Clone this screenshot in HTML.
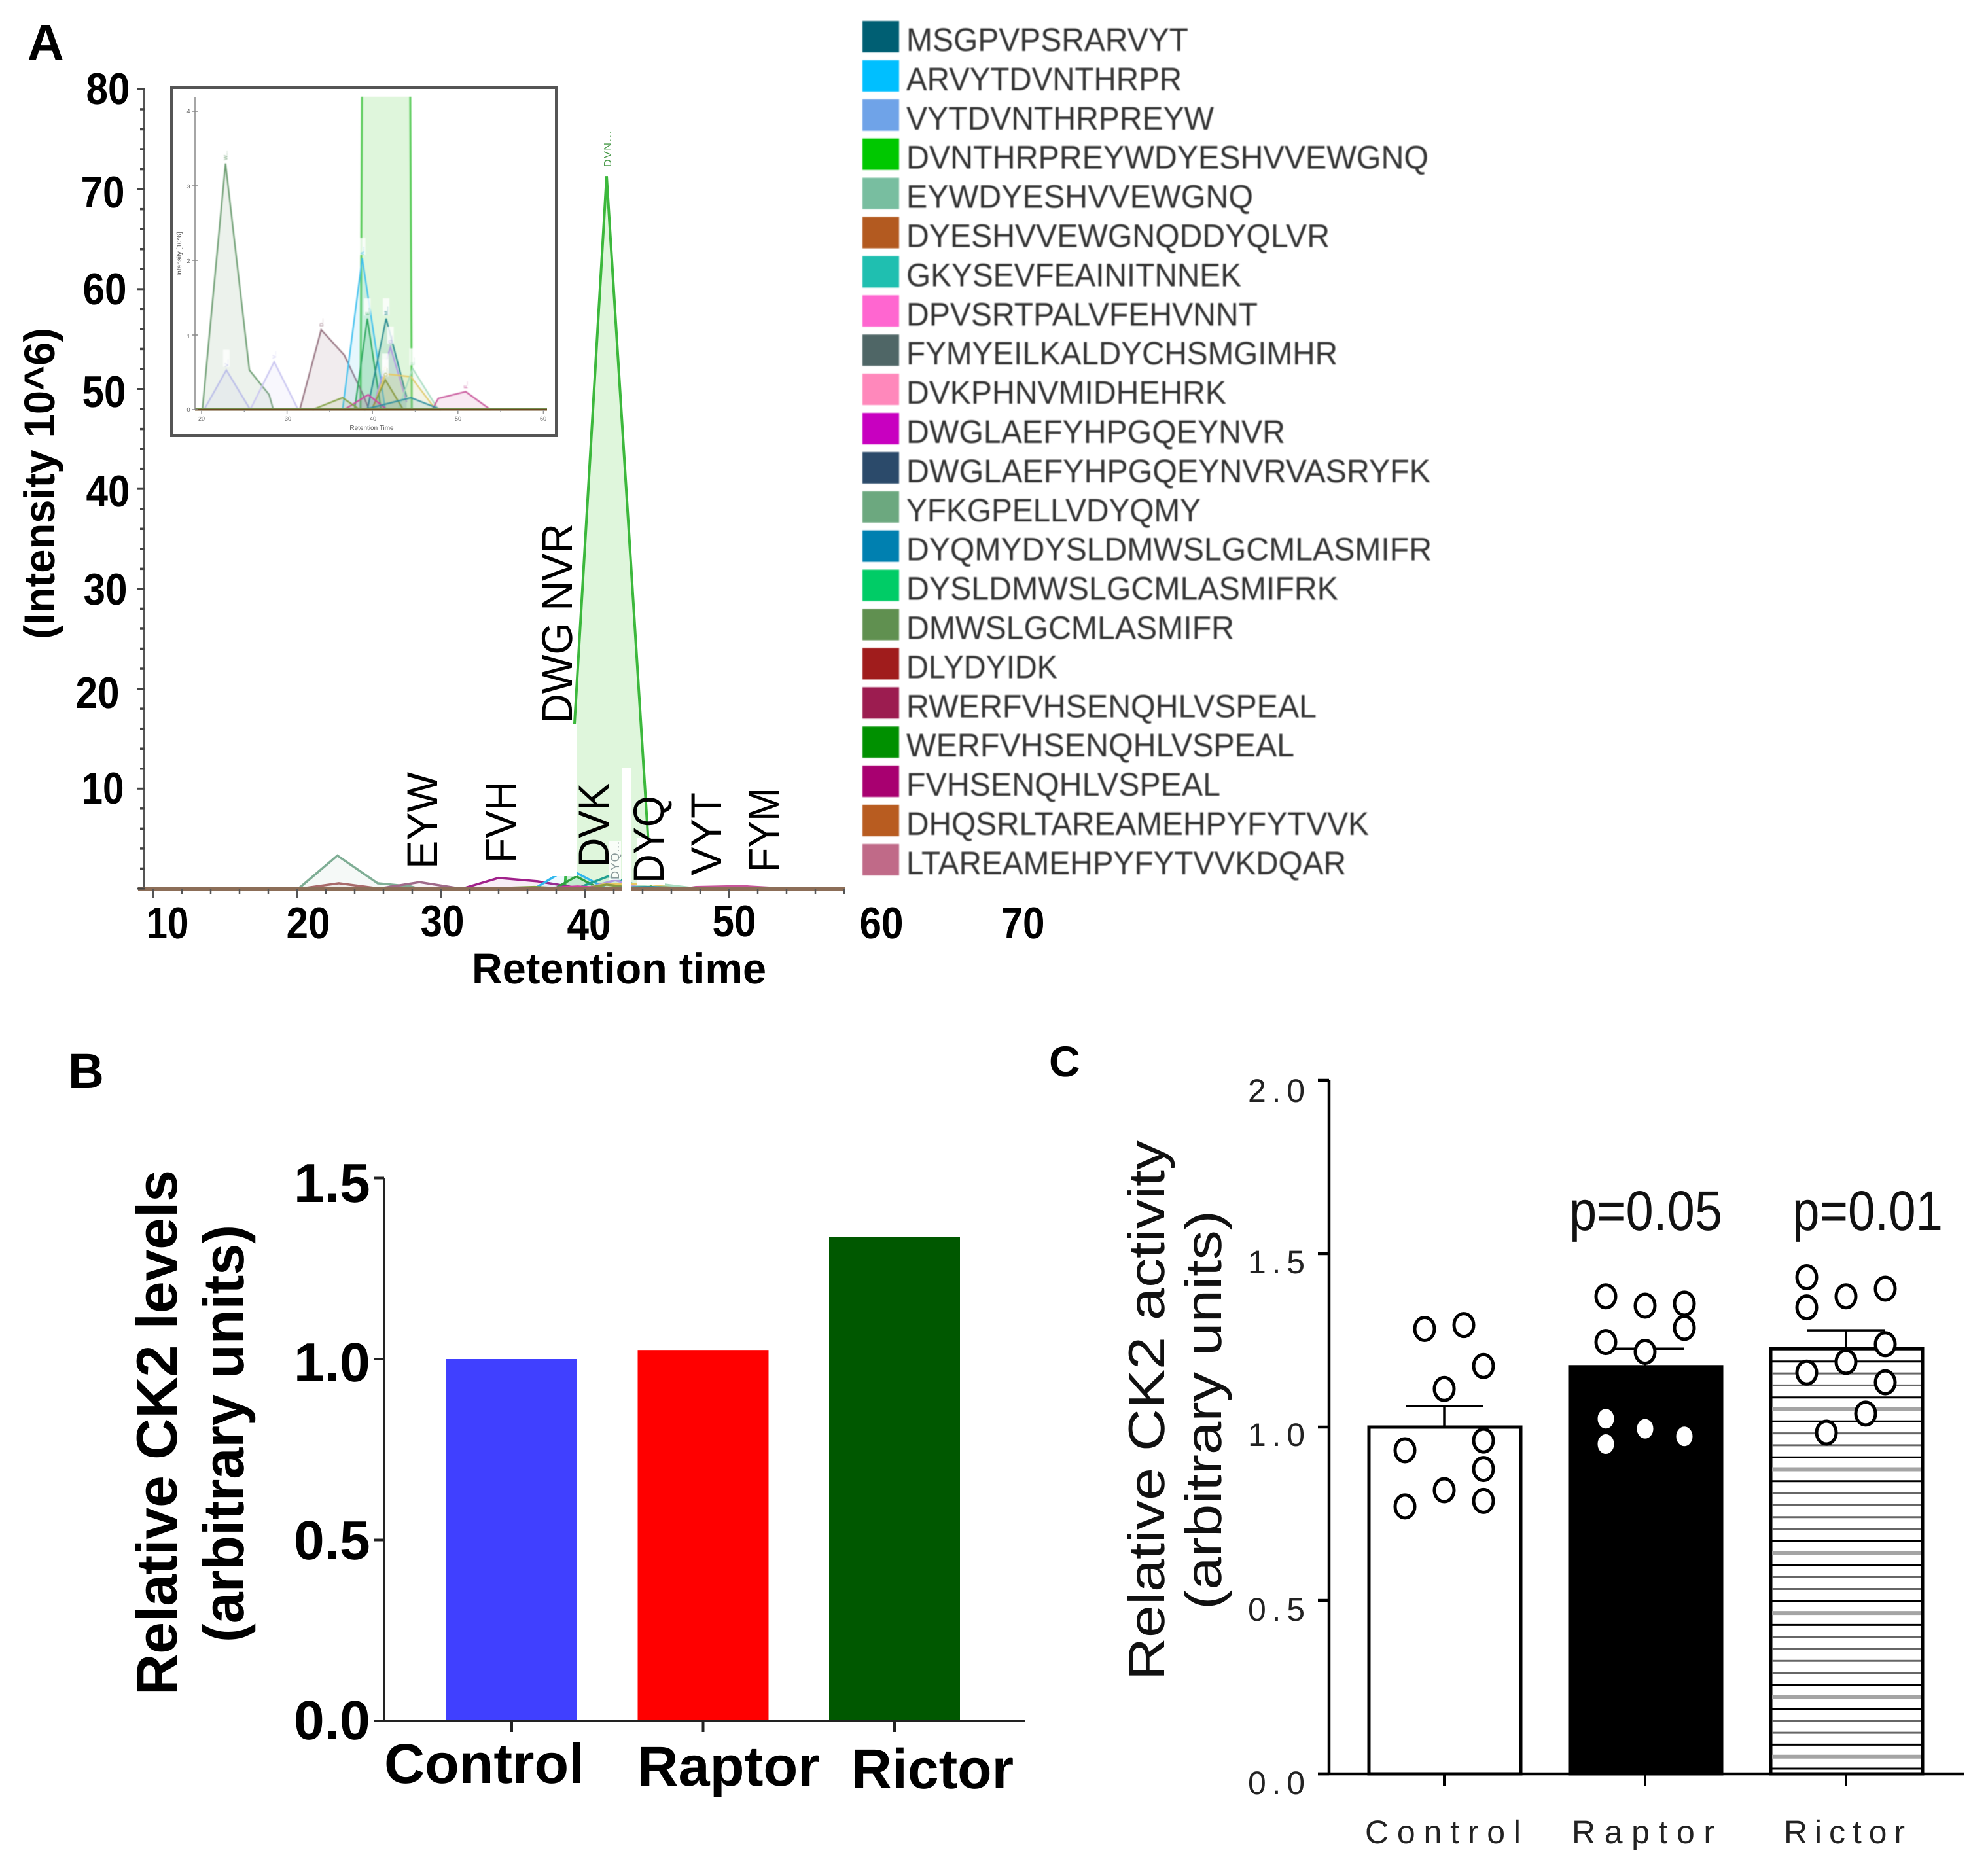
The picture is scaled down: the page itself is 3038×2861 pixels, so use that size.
<!DOCTYPE html>
<html lang="en">
<head>
<meta charset="utf-8">
<title>CK2 peptide retention, levels and activity</title>
<style>
html,body{margin:0;padding:0;background:#fff}
svg{display:block;font-family:"Liberation Sans",Arial,sans-serif;text-rendering:geometricPrecision}
.b{font-weight:bold}
.tick-a{font-size:68px;font-weight:bold;text-anchor:middle;fill:#000}
.pep{font-size:66px;fill:#000}
.leg{font-size:50px;fill:#333}
.tb{font-size:84px;font-weight:bold;fill:#000}
.tc{font-size:50px;fill:#222}
</style>
</head>
<body>
<svg id="figure" xmlns="http://www.w3.org/2000/svg" width="3038" height="2861" viewBox="0 0 3038 2861">
<rect width="3038" height="2861" fill="#fff"/>
<defs>
<clipPath id="inset-clip"><rect x="298" y="148" width="545" height="482"/></clipPath>
</defs>

<!-- PANEL A -->
<g id="panel-a">
<text class="b" x="42" y="91" font-size="77">A</text>
<g id="main-peak"></g>
<g id="main-series"></g>
<g id="main-axes"></g>
<g fill="#fff">
<rect x="805" y="1107" width="77" height="232"/>
<rect x="950" y="1173" width="14" height="192"/>
<rect x="974" y="1280" width="42" height="72"/>
<rect x="918" y="199" width="20" height="58"/>
<rect x="931" y="1285" width="18" height="60" opacity="0.8"/>
</g>
<text transform="translate(934,255) rotate(-90)" font-size="16" fill="#4a9a4a" textLength="55">DVN...</text>
<text transform="translate(946,1344) rotate(-90)" font-size="18" fill="#8a9a9a" textLength="58">DYQ...</text>

<text class="pep" transform="translate(874,1106) rotate(-90)" textLength="306" lengthAdjust="spacingAndGlyphs">DWG NVR</text>
<text class="pep" transform="translate(668,1328) rotate(-90)" textLength="148" lengthAdjust="spacingAndGlyphs">EYW</text>
<text class="pep" transform="translate(788,1319) rotate(-90)" textLength="125" lengthAdjust="spacingAndGlyphs">FVH</text>
<text class="pep" transform="translate(930,1326) rotate(-90)" textLength="129" lengthAdjust="spacingAndGlyphs">DVK</text>
<text class="pep" transform="translate(1014,1350) rotate(-90)" textLength="134" lengthAdjust="spacingAndGlyphs">DYQ</text>
<text class="pep" transform="translate(1102,1338) rotate(-90)" textLength="127" lengthAdjust="spacingAndGlyphs">VYT</text>
<text class="pep" transform="translate(1190,1333) rotate(-90)" textLength="129" lengthAdjust="spacingAndGlyphs">FYM</text>

<g>
<text class="tick-a" x="165" y="159" textLength="67" lengthAdjust="spacingAndGlyphs">80</text>
<text class="tick-a" x="157" y="317" textLength="67" lengthAdjust="spacingAndGlyphs">70</text>
<text class="tick-a" x="160" y="465" textLength="67" lengthAdjust="spacingAndGlyphs">60</text>
<text class="tick-a" x="159" y="622" textLength="67" lengthAdjust="spacingAndGlyphs">50</text>
<text class="tick-a" x="165" y="774" textLength="67" lengthAdjust="spacingAndGlyphs">40</text>
<text class="tick-a" x="161" y="924" textLength="67" lengthAdjust="spacingAndGlyphs">30</text>
<text class="tick-a" x="149" y="1082" textLength="67" lengthAdjust="spacingAndGlyphs">20</text>
<text class="tick-a" x="157" y="1228" textLength="65" lengthAdjust="spacingAndGlyphs">10</text>
</g>
<g>
<text class="tick-a" x="256" y="1434" textLength="65" lengthAdjust="spacingAndGlyphs">10</text>
<text class="tick-a" x="471" y="1434" textLength="67" lengthAdjust="spacingAndGlyphs">20</text>
<text class="tick-a" x="676" y="1431" textLength="67" lengthAdjust="spacingAndGlyphs">30</text>
<text class="tick-a" x="900" y="1436" textLength="67" lengthAdjust="spacingAndGlyphs">40</text>
<text class="tick-a" x="1122" y="1431" textLength="67" lengthAdjust="spacingAndGlyphs">50</text>
<text class="tick-a" x="1347" y="1434" textLength="67" lengthAdjust="spacingAndGlyphs">60</text>
<text class="tick-a" x="1563" y="1434" textLength="67" lengthAdjust="spacingAndGlyphs">70</text>
</g>
<text class="b" x="721" y="1503" font-size="66" textLength="450" lengthAdjust="spacingAndGlyphs">Retention time</text>
<text class="b" transform="translate(83,977) rotate(-90)" font-size="66" textLength="476" lengthAdjust="spacingAndGlyphs">(Intensity 10^6)</text>

<g id="inset">
<rect x="262" y="134" width="588" height="532" fill="#fff" stroke="#555" stroke-width="4"/>
<g style="filter:blur(0.8px)">
<g id="inset-series" clip-path="url(#inset-clip)"></g>
</g>
<g id="inset-axes"></g>
<g font-size="9" fill="#666" text-anchor="middle">
<text x="288" y="173">4</text>
<text x="288" y="288">3</text>
<text x="288" y="402">2</text>
<text x="288" y="517">1</text>
<text x="288" y="629">0</text>
<text x="308" y="643">20</text>
<text x="440" y="643">30</text>
<text x="570" y="643">40</text>
<text x="700" y="643">50</text>
<text x="830" y="643">60</text>
</g>
<text x="568" y="657" font-size="10" fill="#555" text-anchor="middle">Retention Time</text>
<text transform="translate(277,388) rotate(-90)" font-size="10" fill="#555" text-anchor="middle">Intensity [10^6]</text>
</g>

<g style="filter:blur(0.9px)">
<g transform="translate(0,32)"><rect x="1318" width="56" height="48" fill="#005f73"/><text class="leg" x="1385" y="46" textLength="431" lengthAdjust="spacingAndGlyphs">MSGPVPSRARVYT</text></g>
<g transform="translate(0,91.9)"><rect x="1318" width="56" height="48" fill="#00bfff"/><text class="leg" x="1385" y="46" textLength="421" lengthAdjust="spacingAndGlyphs">ARVYTDVNTHRPR</text></g>
<g transform="translate(0,151.8)"><rect x="1318" width="56" height="48" fill="#6fa3e8"/><text class="leg" x="1385" y="46" textLength="470" lengthAdjust="spacingAndGlyphs">VYTDVNTHRPREYW</text></g>
<g transform="translate(0,211.7)"><rect x="1318" width="56" height="48" fill="#00c800"/><text class="leg" x="1385" y="46" textLength="798" lengthAdjust="spacingAndGlyphs">DVNTHRPREYWDYESHVVEWGNQ</text></g>
<g transform="translate(0,271.6)"><rect x="1318" width="56" height="48" fill="#78bea0"/><text class="leg" x="1385" y="46" textLength="530" lengthAdjust="spacingAndGlyphs">EYWDYESHVVEWGNQ</text></g>
<g transform="translate(0,331.5)"><rect x="1318" width="56" height="48" fill="#b35a20"/><text class="leg" x="1385" y="46" textLength="647" lengthAdjust="spacingAndGlyphs">DYESHVVEWGNQDDYQLVR</text></g>
<g transform="translate(0,391.4)"><rect x="1318" width="56" height="48" fill="#1fbfb0"/><text class="leg" x="1385" y="46" textLength="512" lengthAdjust="spacingAndGlyphs">GKYSEVFEAINITNNEK</text></g>
<g transform="translate(0,451.3)"><rect x="1318" width="56" height="48" fill="#ff66d0"/><text class="leg" x="1385" y="46" textLength="537" lengthAdjust="spacingAndGlyphs">DPVSRTPALVFEHVNNT</text></g>
<g transform="translate(0,511.2)"><rect x="1318" width="56" height="48" fill="#4f6666"/><text class="leg" x="1385" y="46" textLength="659" lengthAdjust="spacingAndGlyphs">FYMYEILKALDYCHSMGIMHR</text></g>
<g transform="translate(0,571.1)"><rect x="1318" width="56" height="48" fill="#ff88bb"/><text class="leg" x="1385" y="46" textLength="489" lengthAdjust="spacingAndGlyphs">DVKPHNVMIDHEHRK</text></g>
<g transform="translate(0,631)"><rect x="1318" width="56" height="48" fill="#c800c0"/><text class="leg" x="1385" y="46" textLength="579" lengthAdjust="spacingAndGlyphs">DWGLAEFYHPGQEYNVR</text></g>
<g transform="translate(0,690.9)"><rect x="1318" width="56" height="48" fill="#2b4a6a"/><text class="leg" x="1385" y="46" textLength="801" lengthAdjust="spacingAndGlyphs">DWGLAEFYHPGQEYNVRVASRYFK</text></g>
<g transform="translate(0,750.8)"><rect x="1318" width="56" height="48" fill="#6ca87f"/><text class="leg" x="1385" y="46" textLength="450" lengthAdjust="spacingAndGlyphs">YFKGPELLVDYQMY</text></g>
<g transform="translate(0,810.7)"><rect x="1318" width="56" height="48" fill="#0080b0"/><text class="leg" x="1385" y="46" textLength="803" lengthAdjust="spacingAndGlyphs">DYQMYDYSLDMWSLGCMLASMIFR</text></g>
<g transform="translate(0,870.6)"><rect x="1318" width="56" height="48" fill="#00cc66"/><text class="leg" x="1385" y="46" textLength="660" lengthAdjust="spacingAndGlyphs">DYSLDMWSLGCMLASMIFRK</text></g>
<g transform="translate(0,930.5)"><rect x="1318" width="56" height="48" fill="#609050"/><text class="leg" x="1385" y="46" textLength="501" lengthAdjust="spacingAndGlyphs">DMWSLGCMLASMIFR</text></g>
<g transform="translate(0,990.4)"><rect x="1318" width="56" height="48" fill="#a01c1c"/><text class="leg" x="1385" y="46" textLength="231" lengthAdjust="spacingAndGlyphs">DLYDYIDK</text></g>
<g transform="translate(0,1050.3)"><rect x="1318" width="56" height="48" fill="#9c1c50"/><text class="leg" x="1385" y="46" textLength="627" lengthAdjust="spacingAndGlyphs">RWERFVHSENQHLVSPEAL</text></g>
<g transform="translate(0,1110.2)"><rect x="1318" width="56" height="48" fill="#009000"/><text class="leg" x="1385" y="46" textLength="593" lengthAdjust="spacingAndGlyphs">WERFVHSENQHLVSPEAL</text></g>
<g transform="translate(0,1170.1)"><rect x="1318" width="56" height="48" fill="#a80070"/><text class="leg" x="1385" y="46" textLength="480" lengthAdjust="spacingAndGlyphs">FVHSENQHLVSPEAL</text></g>
<g transform="translate(0,1230)"><rect x="1318" width="56" height="48" fill="#b85c20"/><text class="leg" x="1385" y="46" textLength="707" lengthAdjust="spacingAndGlyphs">DHQSRLTAREAMEHPYFYTVVK</text></g>
<g transform="translate(0,1289.9)"><rect x="1318" width="56" height="48" fill="#c06a88"/><text class="leg" x="1385" y="46" textLength="672" lengthAdjust="spacingAndGlyphs">LTAREAMEHPYFYTVVKDQAR</text></g>
</g>
</g>

<!-- PANEL B -->
<g id="panel-b">
<text class="b" x="104" y="1663" font-size="76">B</text>
<g id="b-bars"></g>
<g id="b-axes"></g>
<text class="tb" x="449" y="1837">1.5</text>
<text class="tb" x="449" y="2111">1.0</text>
<text class="tb" x="449" y="2383">0.5</text>
<text class="tb" x="449" y="2658">0.0</text>
<text class="b" x="587" y="2725" font-size="86" textLength="306" lengthAdjust="spacingAndGlyphs">Control</text>
<text class="b" x="974" y="2729" font-size="86" textLength="279" lengthAdjust="spacingAndGlyphs">Raptor</text>
<text class="b" x="1301" y="2733" font-size="86" textLength="248" lengthAdjust="spacingAndGlyphs">Rictor</text>
<text class="b" transform="translate(270,2591) rotate(-90)" font-size="88" textLength="803" lengthAdjust="spacingAndGlyphs">Relative CK2 levels</text>
<text class="b" transform="translate(372,2510) rotate(-90)" font-size="88" textLength="638" lengthAdjust="spacingAndGlyphs">(arbitrary units)</text>
</g>

<!-- PANEL C -->
<g id="panel-c">
<text class="b" x="1603" y="1645" font-size="66">C</text>
<g id="c-bars"></g>
<g id="c-axes"></g>
<g id="c-dots"></g>
<text class="tc" x="1907" y="1684" textLength="87" lengthAdjust="spacing">2.0</text>
<text class="tc" x="1907" y="1946" textLength="87" lengthAdjust="spacing">1.5</text>
<text class="tc" x="1907" y="2210" textLength="87" lengthAdjust="spacing">1.0</text>
<text class="tc" x="1907" y="2477" textLength="87" lengthAdjust="spacing">0.5</text>
<text class="tc" x="1907" y="2742" textLength="87" lengthAdjust="spacing">0.0</text>
<text class="tc" x="2086" y="2817" textLength="238" lengthAdjust="spacing">Control</text>
<text class="tc" x="2402" y="2817" textLength="218" lengthAdjust="spacing">Raptor</text>
<text class="tc" x="2726" y="2817" textLength="185" lengthAdjust="spacing">Rictor</text>
<text x="2398" y="1880" font-size="86" fill="#111" textLength="234" lengthAdjust="spacingAndGlyphs">p=0.05</text>
<text x="2739" y="1880" font-size="86" fill="#111" textLength="230" lengthAdjust="spacingAndGlyphs">p=0.01</text>
<text transform="translate(1779,2568) rotate(-90)" font-size="78" fill="#111" textLength="825" lengthAdjust="spacingAndGlyphs">Relative CK2 activity</text>
<text transform="translate(1866,2460) rotate(-90)" font-size="78" fill="#111" textLength="610" lengthAdjust="spacingAndGlyphs">(arbitrary units)</text>
</g>
</svg>

<script>
// ---------- Panel A data: retention time (min) and intensity (10^6) ----------
const dvnTimes = [38.6, 41.5, 44.6];
const dvnValues = [0, 71.3, 0];
const eywTimes = [20.1, 22.8, 25.6, 27.9, 28.4];
const eywValues = [0, 3.3, 0.53, 0.2, 0];
const vytTimes = [20.3, 22.9, 25.7];
const vytValues = [0, 0.53, 0];
const fymTimes = [25.7, 28.5, 31.3];
const fymValues = [0, 0.64, 0];
const fvhTimes = [31.5, 34, 36.7, 38.9, 39.6];
const fvhValues = [0, 1.07, 0.73, 0.2, 0];
const arvTimes = [36.5, 38.8, 41.5];
const arvValues = [0, 2.03, 0];
const wgTimes = [37.9, 39.4, 41];
const wgValues = [0, 1.22, 0];
const msgTimes = [39.4, 41.6, 44];
const msgValues = [0, 1.22, 0.17];
const lavTimes = [40, 42.1, 44];
const lavValues = [0, 0.84, 0.1];
const tanTimes = [40, 41.5, 44.5, 47.4];
const tanValues = [0, 0.48, 0.44, 0];
const eyw2Times = [43, 44.7, 47.7];
const eyw2Values = [0, 0.55, 0];
const olvTimes = [39.9, 41.5, 43.6];
const olvValues = [0, 0.4, 0];
const dvkTimes = [47, 47.7, 50.9, 53.8];
const dvkValues = [0, 0.15, 0.24, 0];
const dpvTimes = [36.7, 39.5, 41.7];
const dpvValues = [0, 0.2, 0];
const dlyTimes = [33, 36.5, 38.5];
const dlyValues = [0, 0.16, 0];
const dysTimes = [39, 44.5, 48];
const dysValues = [0, 0.16, 0];

const seriesNames = ['eyw','vyt','fym','fvh','arv','wg','msg','lav','tan','eyw2','olv','dvk','dpv','dly','dys'];
const seriesTimes = [eywTimes,vytTimes,fymTimes,fvhTimes,arvTimes,wgTimes,msgTimes,lavTimes,tanTimes,eyw2Times,olvTimes,dvkTimes,dpvTimes,dlyTimes,dysTimes];
const seriesValues = [eywValues,vytValues,fymValues,fvhValues,arvValues,wgValues,msgValues,lavValues,tanValues,eyw2Values,olvValues,dvkValues,dpvValues,dlyValues,dysValues];
const seriesColorsInset = ['#6b9c70','#b8bbe8','#c8c4f0','#94707e','#40c0ee','#30a860','#2c8c92','#b09ae0','#e8c860','#a8dcc0','#8a9a40','#c8559a','#d040a0','#80a040','#3090a0'];
const seriesColorsMain = ['#7fae95','#a86a6a','#a06a8a','#a0208a','#30b8ee','#30a040','#20a090','#b09ae0','#e8c860','#a8dcc0','#8a9a40','#c8559a','#d040a0','#80a040','#3090a0'];
const insetLabelTexts = ['W...','V...','V...','D...','A...','E...','M...','G...','D...','E...','D...','F...','','',''];

// ---------- Panel A axis ticks ----------
const mainXTicks = [10,12,14,16,18,20,22,24,26,28,30,32,34,36,38,40,42,44,46,48,50,52,54,56,58];
const mainYTicks = [0,2,4,6,8,10,12,14,16,18,20,22,24,26,28,30,32,34,36,38,40,42,44,46,48,50,52,54,56,58,60,62,64,66,68,70,72,74,76,78,80];
const insetYTicks = [0,1,2,3,4];
const insetXTicks = [20,25,30,35,40,45,50,55,60];

// ---------- Panel B data ----------
const levelCategories = ['control','raptor','rictor'];
const levelValues = [1.0, 1.025, 1.338];
const levelColors = ['#4040ff','#ff0000','#005800'];
const levelTicks = [0, 0.5, 1.0, 1.5];

// ---------- Panel C data ----------
const activityCategories = ['control','raptor','rictor'];
const activityMeans = [1.0, 1.174, 1.226];
const activityErrors = [0.06, 0.052, 0.053];
const activityTicks = [0, 0.5, 1.0, 1.5, 2.0];
const controlDots = [1.283,1.294,1.176,1.110,0.961,0.933,0.879,0.818,0.787,0.771];
const raptorDots = [1.377,1.350,1.356,1.286,1.245,1.217,1.024,0.995,0.973,0.951];
const rictorDots = [1.432,1.399,1.377,1.345,1.239,1.188,1.157,1.129,1.039,0.984];
const controlSwarmColumn = [-1,1,2,0,2,-2,2,0,2,-2];
const raptorSwarmColumn = [-2,0,2,2,-2,0,-2,0,2,-2];
const rictorSwarmColumn = [-2,2,0,-2,2,0,-2,2,1,-1];
const stripeKinds = 'BmmBgBmmBgBmmmmBgBmmBgBmmmmBgBmmBgB';

// ---------- Axis functions ----------
const xMain = t => 234 + (t - 10) * 22;
const yMain = v => 1358 - v * 15.27;
const xInset = t => 308 + (t - 20) * 13.06;
const yInset = v => 626 - v * 114;
const yLevel = v => 2630 - v * 553;
const yActivity = v => 2711 - v * 530;
const levelBarX = i => 682 + i * 292.5;
const activityCenter = i => 2207 + i * 307;

const NS = 'http://www.w3.org/2000/svg';
function mk(tag, attrs, parent) {
  const el = document.createElementNS(NS, tag);
  for (const k in attrs) el.setAttribute(k, attrs[k]);
  parent.appendChild(el);
  return el;
}
function linePts(times, values, fx, fy) {
  return times.map((t, i) => fx(t).toFixed(1) + ',' + fy(values[i]).toFixed(1)).join(' ');
}
function areaPts(times, values, fx, fy) {
  return fx(times[0]).toFixed(1) + ',' + fy(0).toFixed(1) + ' ' + linePts(times, values, fx, fy) + ' ' + fx(times[times.length - 1]).toFixed(1) + ',' + fy(0).toFixed(1);
}
const $ = id => document.getElementById(id);

// ---------- Main chromatogram ----------
let el;
el = mk('polygon', {points: areaPts(dvnTimes, dvnValues, xMain, yMain), fill: '#dff6dc'}, $('main-peak'));


el = mk('polyline', {points: linePts(dvnTimes, dvnValues, xMain, yMain), fill: 'none', stroke: '#3cb83c', 'stroke-width': 4}, $('main-peak'));



seriesNames.forEach((name, i) => {
  const fillEl = mk('polygon', {points: areaPts(seriesTimes[i], seriesValues[i], xMain, yMain), fill: seriesColorsMain[i], 'fill-opacity': 0.08}, $('main-series'));
  
  
  const lineEl = mk('polyline', {points: linePts(seriesTimes[i], seriesValues[i], xMain, yMain), fill: 'none', stroke: seriesColorsMain[i], 'stroke-width': 3.5}, $('main-series'));
  
  
});

el = mk('line', {x1: 220, x2: 220, y1: yMain(80), y2: yMain(0), stroke: '#555', 'stroke-width': 3}, $('main-axes'));


el = mk('line', {x1: 211, x2: 1292, y1: 1358, y2: 1358, stroke: '#8c6e58', 'stroke-width': 6}, $('main-axes'));


mainYTicks.forEach(v => {
  const major = v % 10 === 0;
  const tk = mk('line', {x1: major ? 209 : 214, x2: 222, y1: yMain(v), y2: yMain(v), stroke: '#444', 'stroke-width': major ? 3 : 3.5}, $('main-axes'));
  
  
});
mainXTicks.forEach(t => {
  const major = t % 10 === 0;
  const tk = mk('line', {x1: xMain(t), x2: xMain(t), y1: 1358, y2: major ? 1372 : 1366, stroke: '#555', 'stroke-width': 2.5}, $('main-axes'));
  
  
});

// ---------- Inset chromatogram ----------
el = mk('polygon', {points: areaPts(dvnTimes, dvnValues, xInset, yInset), fill: '#dff6dc'}, $('inset-series'));


el = mk('polyline', {points: linePts(dvnTimes, dvnValues, xInset, yInset), fill: 'none', stroke: '#5ccc5c', 'stroke-width': 3}, $('inset-series'));



seriesNames.forEach((name, i) => {
  const fillEl = mk('polygon', {points: areaPts(seriesTimes[i], seriesValues[i], xInset, yInset), fill: seriesColorsInset[i], 'fill-opacity': 0.13}, $('inset-series'));
  
  
  const lineEl = mk('polyline', {points: linePts(seriesTimes[i], seriesValues[i], xInset, yInset), fill: 'none', stroke: seriesColorsInset[i], 'stroke-width': 2.2}, $('inset-series'));
  
  
  if (insetLabelTexts[i]) {
    const peak = Math.max(...seriesValues[i]);
    const peakTime = seriesTimes[i][seriesValues[i].indexOf(peak)];
    const px = xInset(peakTime);
    const py = yInset(peak) - 5;
    const box = mk('rect', {x: px - 5, y: py - 26, width: 10, height: 26, fill: '#fff', 'fill-opacity': 0.8}, $('inset-series'));
    
    
    const lbl = mk('text', {transform: 'translate(' + (px + 3) + ',' + py + ') rotate(-90)', 'font-size': 8, fill: seriesColorsInset[i]}, $('inset-series'));
    
    
    lbl.textContent = insetLabelTexts[i];
  }
});
el = mk('line', {x1: 298, x2: 836, y1: yInset(0) - 2, y2: yInset(0) - 2, stroke: '#7fd07f', 'stroke-width': 2}, $('inset-axes'));


el = mk('line', {x1: 298, x2: 836, y1: yInset(0), y2: yInset(0), stroke: '#6a4a20', 'stroke-width': 3}, $('inset-axes'));


el = mk('line', {x1: 298, x2: 298, y1: 148, y2: yInset(0), stroke: '#888', 'stroke-width': 1.5}, $('inset-axes'));


insetYTicks.forEach(v => {
  const tk = mk('line', {x1: 294, x2: 302, y1: yInset(v), y2: yInset(v), stroke: '#888', 'stroke-width': 1.5}, $('inset-axes'));
  
  
});
insetXTicks.forEach(t => {
  const tk = mk('line', {x1: xInset(t), x2: xInset(t), y1: yInset(0), y2: yInset(0) + (t % 10 === 0 ? 6 : 3), stroke: '#999', 'stroke-width': 1.5}, $('inset-axes'));
  
  
});

// ---------- Panel B ----------
levelCategories.forEach((c, i) => {
  const bar = mk('rect', {x: levelBarX(i), y: yLevel(levelValues[i]), width: 200, height: yLevel(0) - yLevel(levelValues[i]), fill: levelColors[i]}, $('b-bars'));
  
  
  const tk = mk('line', {x1: levelBarX(i) + 100, x2: levelBarX(i) + 100, y1: yLevel(0), y2: 2647, stroke: '#222', 'stroke-width': 4}, $('b-axes'));
  
  
});
el = mk('line', {x1: 587, x2: 587, y1: yLevel(1.5), y2: yLevel(0), stroke: '#222', 'stroke-width': 4}, $('b-axes'));


el = mk('line', {x1: 571, x2: 1566, y1: yLevel(0), y2: yLevel(0), stroke: '#222', 'stroke-width': 4}, $('b-axes'));


levelTicks.forEach(v => {
  const tk = mk('line', {x1: 571, x2: 587, y1: yLevel(v), y2: yLevel(v), stroke: '#222', 'stroke-width': 4}, $('b-axes'));
  
  
});

// ---------- Panel C ----------
const activityFills = ['#fff', '#000', '#fff'];
const activityDots = [controlDots, raptorDots, rictorDots];
const activityColumns = [controlSwarmColumn, raptorSwarmColumn, rictorSwarmColumn];
activityCategories.forEach((c, i) => {
  const cx = activityCenter(i);
  const top = yActivity(activityMeans[i]);
  const base = yActivity(0);
  const bar = mk('rect', {x: cx - 115, y: top, width: 232, height: base - top, fill: activityFills[i], stroke: '#000', 'stroke-width': 5}, $('c-bars'));
  
  
  if (c === 'rictor') {
    for (let s = 0; s < stripeKinds.length; s++) {
      const sy = base - 8 - (stripeKinds.length - 1 - s) * 18.3;
      if (sy <= top + 6) continue;
      const kind = stripeKinds[s];
      const st = mk('line', {x1: cx - 113, x2: cx + 115, y1: sy, y2: sy, stroke: kind === 'B' ? '#000' : kind === 'm' ? '#666' : '#a4a4a4', 'stroke-width': kind === 'B' ? 3 : kind === 'm' ? 3 : 6}, $('c-bars'));
      
      
    }
  }
  const errTop = yActivity(activityMeans[i] + activityErrors[i]);
  const stem = mk('line', {x1: cx, x2: cx, y1: top, y2: errTop, stroke: '#000', 'stroke-width': 3.5}, $('c-bars'));
  
  
  const cap = mk('line', {x1: cx - 59, x2: cx + 59, y1: errTop, y2: errTop, stroke: '#000', 'stroke-width': 3.5}, $('c-bars'));
  
  
  const tk = mk('line', {x1: cx, x2: cx, y1: base, y2: base + 18, stroke: '#000', 'stroke-width': 4}, $('c-axes'));
  
  
  activityDots[i].forEach((v, j) => {
    const dot = mk('ellipse', {cx: cx + activityColumns[i][j] * 30, cy: yActivity(v), rx: 15, ry: 17.5, fill: '#fff', stroke: '#000', 'stroke-width': 5}, $('c-dots'));
    
    
  });
});
el = mk('line', {x1: 2031, x2: 2031, y1: yActivity(2), y2: yActivity(0), stroke: '#000', 'stroke-width': 4.5}, $('c-axes'));


el = mk('line', {x1: 2014, x2: 3001, y1: yActivity(0), y2: yActivity(0), stroke: '#000', 'stroke-width': 4.5}, $('c-axes'));


activityTicks.forEach(v => {
  const tk = mk('line', {x1: 2014, x2: 2031, y1: yActivity(v), y2: yActivity(v), stroke: '#000', 'stroke-width': 4.5}, $('c-axes'));
  
  
});
</script>
</body>
</html>
